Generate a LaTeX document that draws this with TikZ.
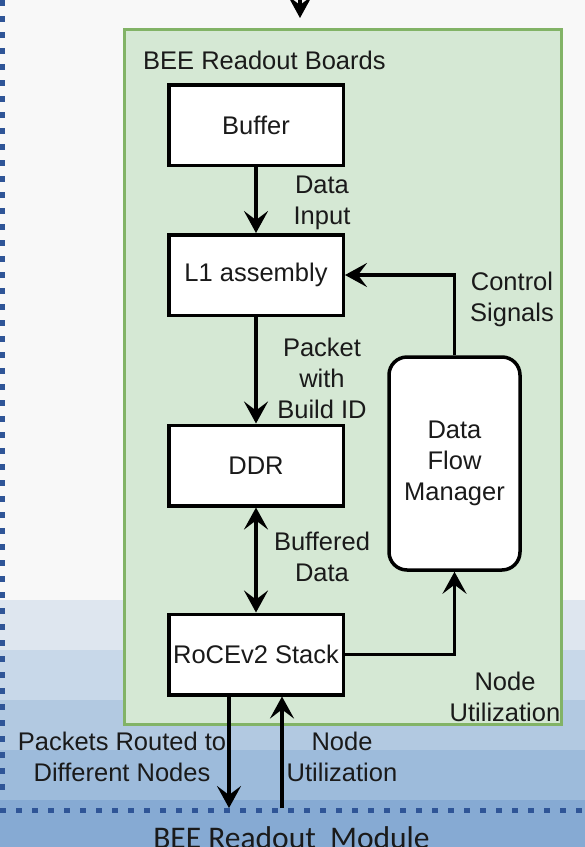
\documentclass[tikz,border=0pt]{standalone}
\usepackage{fontspec}
\setmainfont{Liberation Sans}
\newfontfamily\calibfont{Carlito}
\usetikzlibrary{arrows.meta}
\definecolor{bgtop}{HTML}{F8F8F8}
\definecolor{bandA}{HTML}{DEE6EF}
\definecolor{bandB}{HTML}{C8D8E9}
\definecolor{bandC}{HTML}{B2C9E1}
\definecolor{bandD}{HTML}{9DBBDB}
\definecolor{bandE}{HTML}{86AAD3}
\definecolor{dotblue}{HTML}{2F5597}
\definecolor{grnfill}{HTML}{D5E8D4}
\definecolor{grnline}{HTML}{82B366}
\definecolor{txt}{HTML}{1A1A1A}
\begin{document}
\begin{tikzpicture}[x=1pt,y=-1pt,
  blk/.style={draw=black, line width=3.5pt, fill=white, minimum width=174.5pt, minimum height=80.5pt, inner sep=0pt, font=\fontsize{25.5}{31}\selectfont, text=txt},
  lbl/.style={align=center, inner sep=0pt, font=\fontsize{25.5}{31}\selectfont, text=txt},
  conn/.style={line width=3.5pt, draw=black, -{Stealth[length=22pt,width=24pt,inset=9pt]}},
  biconn/.style={line width=3.5pt, draw=black, {Stealth[length=22pt,width=24pt,inset=9pt]}-{Stealth[length=22pt,width=24pt,inset=9pt]}},
  dots/.style={draw=dotblue, line width=5pt, dash pattern=on 6pt off 10pt}
]
\useasboundingbox (0,0) rectangle (585,847);
% background bands
\fill[bgtop] (0,0) rectangle (585,600);
\fill[bandA] (0,600) rectangle (585,650);
\fill[bandB] (0,650) rectangle (585,700);
\fill[bandC] (0,700) rectangle (585,750);
\fill[bandD] (0,750) rectangle (585,800);
\fill[bandE] (0,800) rectangle (585,847);
% dotted module border
\draw[dots] (2,0) -- (2,800);
\draw[dots] (0,810) -- (590,810);
% module label
\node[font=\calibfont\fontsize{31.5}{36}\selectfont, anchor=base, text=txt, inner sep=0pt] (module) at (291.5,848) {BEE Readout\ \ Module};
% incoming arrow at top
\coordinate (topin) at (300,-30);
\coordinate (toptip) at (300,18);
\draw[conn] (topin) -- (toptip);
% boards container
\node[draw=grnline, fill=grnfill, line width=3pt, minimum width=437pt, minimum height=695pt, inner sep=0pt] (boards) at (343,377) {};
\node[lbl, anchor=west] (boardslbl) at (143,60) {BEE Readout Boards};
% blocks
\node[blk] (buffer) at (256,125) {Buffer};
\node[blk] (l1) at (256,275) {L1 assembly};
\node[blk] (ddr) at (256,465.5) {DDR};
\node[blk] (roce) at (256,654.5) {RoCEv2 Stack};
\node[blk, minimum width=131pt, minimum height=213pt, rounded corners=18pt, align=center] (dfm) at (454.5,463.5) {Data\\Flow\\Manager};
% connectors
\draw[conn] (buffer) -- (l1);
\draw[conn] (l1) -- (ddr);
\draw[biconn] (ddr) -- (roce);
\draw[conn] (dfm.north) |- (l1.east);
\draw[conn] (roce.east) -| (dfm.south);
\coordinate (pout) at (229,808);
\coordinate (pin) at (282,808);
\draw[conn] (roce.south -| pout) -- (pout);
\draw[conn] (pin) -- (roce.south -| pin);
% labels
\node[lbl] (l_data) at (322,203) {Data\\Input};
\node[lbl] (l_ctrl) at (512,299) {Control\\Signals};
\node[lbl] (l_pkt) at (322,378) {Packet\\with\\Build ID};
\node[lbl] (l_buf) at (322,557) {Buffered\\Data};
\node[lbl] (l_nu1) at (505,697) {Node\\Utilization};
\node[lbl] (l_route) at (122,757) {Packets Routed to\\Different Nodes};
\node[lbl] (l_nu2) at (342,757) {Node\\Utilization};
\end{tikzpicture}
\end{document}
